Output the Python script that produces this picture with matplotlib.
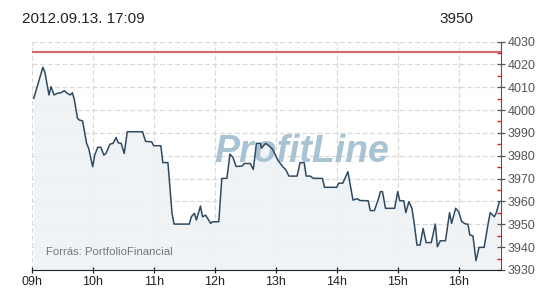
import matplotlib
matplotlib.use("Agg")
import matplotlib.pyplot as plt
from matplotlib.ticker import MultipleLocator

# minutes after 09:00 and index level
minutes = [2, 11, 13, 17, 19, 22, 25, 29, 32, 35, 38, 40, 42, 45, 47, 50, 54, 56, 60, 62,
           65, 68, 71, 73, 77, 80, 83, 85, 88, 91, 94, 109, 112, 118, 120, 127, 129, 134, 138, 140,
           155, 157, 160, 162, 166, 168, 171, 174, 176, 178, 184, 187, 192, 195, 198, 201, 207, 209, 215, 218,
           221, 225, 226, 230, 233, 237, 242, 247, 250, 253, 261, 264, 268, 270, 274, 277, 286, 288, 300, 302,
           306, 311, 316, 320, 323, 331, 333, 337, 341, 343, 345, 348, 357, 360, 362, 366, 368, 371, 374, 376,
           379, 382, 385, 388, 393, 397, 399, 402, 407, 411, 413, 417, 420, 423, 427, 429, 431, 434, 437, 440,
           445, 449, 451, 455, 457, 460]
values = [4005.1, 4018.7, 4016.5, 4006.6, 4010.2, 4006.6, 4007.3, 4007.6, 4008.5, 4007.3,
          4006.6, 4007.6, 4004.4, 3996.4, 3995.6, 3995.3, 3985.4, 3983.3, 3975.2, 3980.3,
          3983.7, 3983.7, 3980.3, 3981.0, 3985.1, 3985.4, 3988.0, 3985.7, 3985.4, 3981.0,
          3990.5, 3990.5, 3986.3, 3986.1, 3984.4, 3984.4, 3977.0, 3977.0, 3954.8, 3950.1,
          3950.1, 3953.3, 3954.8, 3951.9, 3958.0, 3953.3, 3954.0, 3951.9, 3950.4, 3951.1,
          3951.1, 3970.1, 3970.1, 3980.7, 3979.3, 3975.3, 3975.5, 3976.6, 3976.6, 3974.0,
          3985.4, 3985.4, 3983.3, 3985.4, 3984.5, 3982.8, 3978.1, 3975.2, 3973.8, 3971.1,
          3971.1, 3977.0, 3977.0, 3971.1, 3971.1, 3970.1, 3970.1, 3966.2, 3966.2, 3968.0,
          3968.0, 3973.0, 3960.6, 3961.2, 3960.4, 3960.3, 3956.0, 3956.0, 3961.0, 3964.3,
          3964.3, 3957.0, 3957.0, 3964.3, 3960.3, 3960.3, 3955.1, 3959.9, 3957.0, 3951.1,
          3940.9, 3940.9, 3948.2, 3942.0, 3942.0, 3950.1, 3940.2, 3942.8, 3942.8, 3955.1,
          3950.4, 3957.0, 3955.5, 3951.1, 3950.1, 3950.1, 3945.3, 3944.9, 3934.1, 3939.9,
          3939.9, 3950.4, 3955.1, 3953.3, 3955.1, 3959.9]
reference_level = 4025.5
hour_ticks = [0, 60, 120, 180, 240, 300, 360, 420]
hour_labels = ["09h", "10h", "11h", "12h", "13h", "14h", "15h", "16h"]
header_left = "2012.09.13. 17:09"
header_right = "3950"
source_text = "Forrás: PortfolioFinancial"

plt.rcParams["font.family"] = ["Liberation Sans", "DejaVu Sans"]

fig = plt.figure(figsize=(5.5, 3.0), dpi=100, facecolor="white")
W, H = 550, 300
left, right, top, bottom = 31.7, 500.7, 41.5, 270
ax = fig.add_axes([left / W, 1 - bottom / H, (right - left) / W, (bottom - top) / H])
ax.set_xlim(0, 461.3)
ax.set_ylim(3930, 4030)

# grid
for yv in range(3930, 4031, 10):
    ax.axhline(yv, color="#d9d9d9", lw=0.9, ls=(0, (4, 2)), zorder=0)
    ax.axhline(yv - 2.2, color="#ececec", lw=0.8, ls=(0, (0.6, 3.4)), zorder=0)
for xv in hour_ticks:
    ax.axvline(xv, color="#d9d9d9", lw=0.9, ls=(0, (4, 2)), zorder=0)

ax.fill_between(minutes, values, 3930, color="#eef2f6", alpha=0.9, zorder=1, lw=0)
ax.text(0.575, 0.515, "ProfitLine", transform=ax.transAxes, fontsize=27, fontweight="bold",
        fontstyle="italic", color="#a8c3d3", ha="center", va="center", zorder=2)
ax.axhline(reference_level, color="#d46a6a", lw=1.5, zorder=3)
ax.plot(minutes, values, color="#2f4a60", lw=1.1, zorder=4)

ax.text(0.03, 0.055, source_text, transform=ax.transAxes, fontsize=8.2, color="#777777",
        ha="left", va="bottom", zorder=5)

# axes styling
for s in ["left", "top"]:
    ax.spines[s].set_visible(False)
ax.spines["right"].set_color("#555555")
ax.spines["bottom"].set_color("#222222")
ax.yaxis.tick_right()
ax.yaxis.set_major_locator(MultipleLocator(10))
ax.yaxis.set_minor_locator(MultipleLocator(5))
ax.tick_params(axis="y", which="major", direction="inout", length=6, width=0.9,
               colors="#555555", labelsize=9, pad=2)
ax.tick_params(axis="y", which="minor", direction="in", length=3, width=1, color="#e02020")
ax.set_xticks(hour_ticks)
ax.set_xticklabels(hour_labels)
ax.tick_params(axis="x", direction="inout", length=5, width=0.9, colors="#222222",
               labelsize=9, pad=2)

fig.text(22 / W, 1 - 19 / H, header_left, fontsize=11, color="#222222", ha="left", va="center")
fig.text(473 / W, 1 - 19 / H, header_right, fontsize=11, color="#222222", ha="right", va="center")

fig.savefig("out.png", dpi=100, facecolor="white")
